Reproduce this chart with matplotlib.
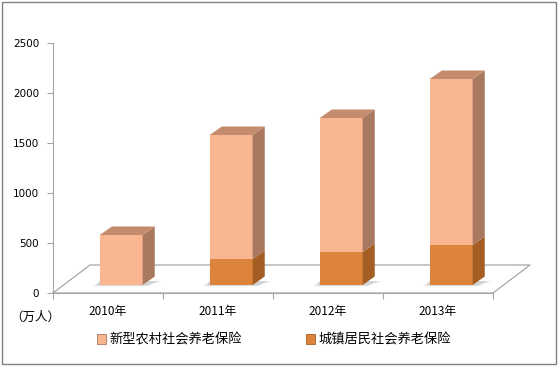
import matplotlib
matplotlib.use('Agg')
from matplotlib import pyplot as plt
from matplotlib.patches import Polygon, Patch, Rectangle

plt.rcParams['font.family'] = ['Noto Sans CJK SC', 'DejaVu Sans']

# 数据（万人）
years = ['2010年', '2011年', '2012年', '2013年']
rural = [500, 1240, 1340, 1660]   # 新型农村社会养老保险
urban = [0, 260, 330, 400]        # 城镇居民社会养老保险
series_names = ['新型农村社会养老保险', '城镇居民社会养老保险']
y_ticks = [0, 500, 1000, 1500, 2000, 2500]

# 颜色：正面 / 侧面 / 顶面
rural_c = ('#F9B691', '#A8785F', '#C48B6C')
urban_c = ('#DC843C', '#A45E24', '#C07034')

fig = plt.figure(figsize=(5.59, 3.67), dpi=100)
W, H = 559, 367
ax = fig.add_axes([53 / W, (H - 293) / H, 478.5 / W, 250 / H])
ax.set_xlim(0, 4.35)
ax.set_ylim(0, 2500)

# 地板（斜投影）
depth_x, depth_y = 0.336, 280
floor = [(0, 0), (4, 0), (4 + depth_x, depth_y), (depth_x, depth_y), (0, 0)]
fx, fy = zip(*floor)
ax.plot(fx, fy, color='#A6A6A6', lw=0.9, zorder=1, clip_on=False)

# 立体柱
w = 0.39
off_x, base = 0.12, 80      # 柱正面相对前缘的位移
ddx, ddy = 0.11, 85         # 柱的厚度

def side(x1, y0, y1):
    return [(x1, y0), (x1 + ddx, y0 + ddy), (x1 + ddx, y1 + ddy), (x1, y1)]

for i in range(len(years)):
    x0 = i + 0.5 - w / 2 + off_x
    x1 = x0 + w
    # 阴影
    for grow, a in ((0.06, 0.25), (0.03, 0.4)):
        ax.add_patch(Polygon([(x0 - grow, base - 12 * grow / 0.06),
                              (x1 + ddx * 0.4, base - 12 * grow / 0.06),
                              (x1 + ddx + grow, base + 40), (x0, base + 40)],
                             closed=True, fc='#B0B0B0', ec='none', alpha=a, zorder=2))
    y = base
    for val, cols in ((urban[i], urban_c), (rural[i], rural_c)):
        if val <= 0:
            continue
        ax.bar(x0, val, width=w, bottom=y, align='edge', color=cols[0],
               edgecolor='none', zorder=3)
        ax.add_patch(Polygon(side(x1, y, y + val), closed=True, fc=cols[1],
                             ec='none', zorder=3))
        y += val
    top = [(x0, y), (x0 + ddx, y + ddy), (x1 + ddx, y + ddy), (x1, y)]
    ax.add_patch(Polygon(top, closed=True, fc=rural_c[2], ec='none', zorder=3))

# 坐标轴
for s in ['top', 'right']:
    ax.spines[s].set_visible(False)
ax.spines['left'].set_color('#A6A6A6')
ax.spines['bottom'].set_color('#A6A6A6')
ax.spines['bottom'].set_bounds(0, 4)
ax.set_yticks(y_ticks)
ax.set_yticklabels([str(v) for v in y_ticks], family='DejaVu Sans', fontsize=7.5)
ax.tick_params(axis='y', length=4, color='#A6A6A6', pad=6)
ax.set_xticks([0, 1, 2, 3, 4])
ax.set_xticklabels([])
ax.tick_params(axis='x', which='major', length=4, color='#A6A6A6')
ax.set_xticks([i + 0.5 for i in range(len(years))], minor=True)
ax.set_xticklabels(years, minor=True, fontsize=8.5)
ax.tick_params(axis='x', which='minor', length=0, pad=9)

fig.text(10 / W, 1 - 317 / H, '（万人）', fontsize=9, va='center', ha='left')

handles = [Patch(fc=rural_c[0], ec=rural_c[1], lw=0.6),
           Patch(fc=urban_c[0], ec=urban_c[1], lw=0.6)]
fig.legend(handles, series_names, loc='center', bbox_to_anchor=(0.49, 1 - 340 / H),
           ncol=2, frameon=False, fontsize=9.5, handlelength=0.7, handleheight=0.7,
           handletextpad=0.3, columnspacing=4.8)

fig.patches.append(Rectangle((2 / W, 3 / H), 554 / W, 362 / H, transform=fig.transFigure,
                             fill=False, ec='#808080', lw=1))

plt.savefig('out.png', dpi=100)
